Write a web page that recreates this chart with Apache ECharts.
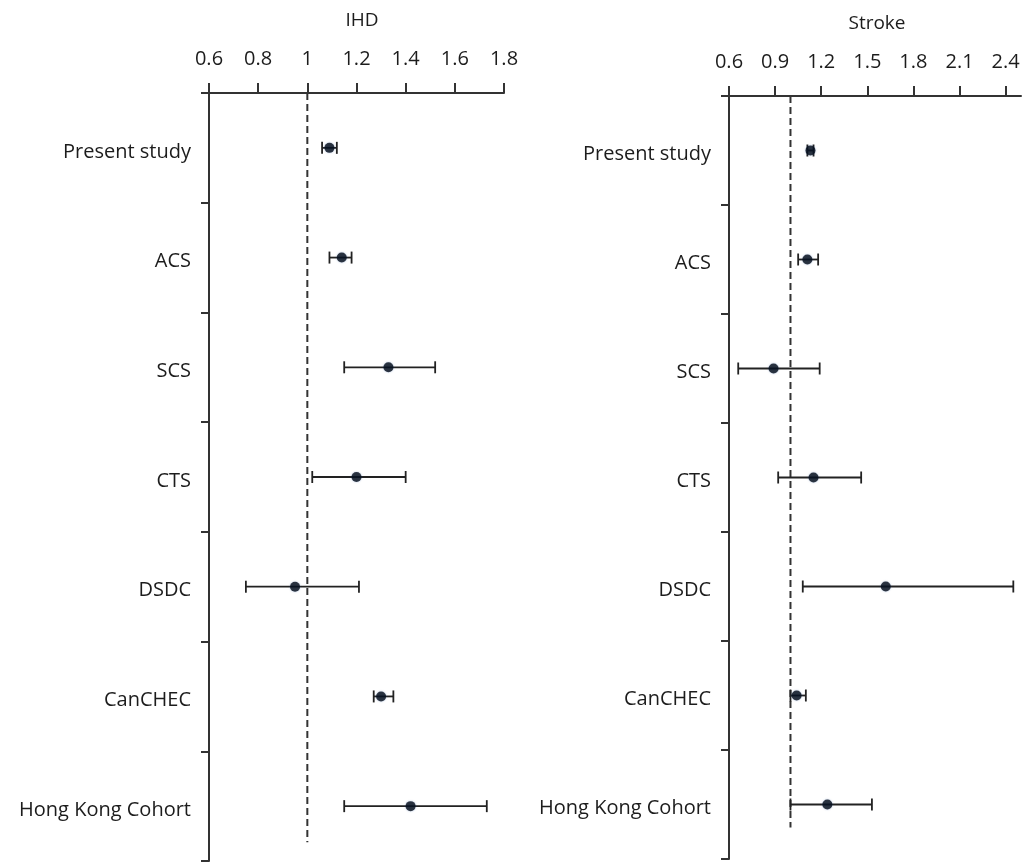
<!DOCTYPE html>
<html>
<head>
<meta charset="utf-8">
<script src="https://cdn.jsdelivr.net/npm/echarts@6/dist/echarts.min.js"></script>
<style>
  html, body { margin: 0; padding: 0; background: #fff; }
  #chart { width: 1029px; height: 867px; }
</style>
</head>
<body>
<div id="chart"></div>
<script>
// studies, top to bottom
const studies = ['Present study', 'ACS', 'SCS', 'CTS', 'DSDC', 'CanCHEC', 'Hong Kong Cohort'];

// IHD: hazard ratio and 95% CI
const ihdHR   = [1.09, 1.14, 1.33, 1.20, 0.95, 1.30, 1.42];
const ihdLow  = [1.06, 1.09, 1.15, 1.02, 0.75, 1.27, 1.15];
const ihdHigh = [1.12, 1.18, 1.52, 1.40, 1.21, 1.35, 1.73];

// Stroke: hazard ratio and 95% CI
const strokeHR   = [1.13, 1.11, 0.89, 1.15, 1.62, 1.04, 1.24];
const strokeLow  = [1.11, 1.05, 0.66, 0.92, 1.08, 1.00, 1.00];
const strokeHigh = [1.15, 1.18, 1.19, 1.46, 2.45, 1.10, 1.53];

// x axis ticks
const ihdTicks = [0.6, 0.8, 1, 1.2, 1.4, 1.6, 1.8];
const strokeTicks = [0.6, 0.9, 1.2, 1.5, 1.8, 2.1, 2.4];

// dashed reference line at HR = 1 (ends, in band units)
const ihdRef = [[1, 0], [1, 6.83]];
const strokeRef = [[1, 0], [1, 6.71]];

const FONT = '"Open Sans", sans-serif';
const TEXT = '#1c1c1c';
const AXIS = '#333333';

function errorBar(params, api) {
  const lo = api.coord([api.value(0), api.value(2)]);
  const hi = api.coord([api.value(1), api.value(2)]);
  const cap = 6;
  const style = { stroke: '#222', lineWidth: 1.8, fill: null };
  return {
    type: 'group',
    children: [
      { type: 'line', shape: { x1: lo[0], y1: lo[1], x2: hi[0], y2: hi[1] }, style },
      { type: 'line', shape: { x1: lo[0], y1: lo[1] - cap, x2: lo[0], y2: lo[1] + cap }, style },
      { type: 'line', shape: { x1: hi[0], y1: hi[1] - cap, x2: hi[0], y2: hi[1] + cap }, style }
    ]
  };
}

function valueAxis(gridIndex, min, max, interval, ticks) {
  return {
    type: 'value',
    gridIndex,
    position: 'top',
    min, max, interval,
    axisLine: { show: true, onZero: false, lineStyle: { color: AXIS, width: 2 } },
    axisTick: { show: true, inside: false, length: 10, customValues: ticks, lineStyle: { color: AXIS, width: 2 } },
    axisLabel: {
      customValues: ticks,
      margin: 24,
      color: TEXT,
      fontFamily: FONT,
      fontSize: 20,
      formatter: v => String(+v.toFixed(1))
    },
    splitLine: { show: false }
  };
}

function categoryAxis(gridIndex) {
  return {
    type: 'category',
    gridIndex,
    data: studies,
    inverse: true,
    boundaryGap: true,
    axisLine: { show: true, onZero: false, lineStyle: { color: AXIS, width: 2 } },
    axisTick: { show: true, length: 8, lineStyle: { color: AXIS, width: 2 } },
    axisLabel: {
      margin: 18,
      color: TEXT,
      fontFamily: FONT,
      fontSize: 20,
      formatter: v => '{t|' + v + '}',
      rich: { t: { fontFamily: FONT, fontSize: 20, color: TEXT, padding: [8, 0, 0, 0] } }
    },
    splitLine: { show: false }
  };
}

function hiddenAxis(gridIndex) {
  return { type: 'value', gridIndex, min: 0, max: 7, inverse: true, show: false };
}

function panel(xi, yCat, yVal, hr, low, high, ref) {
  return [
    {
      type: 'line',
      xAxisIndex: xi,
      yAxisIndex: yVal,
      data: ref,
      symbol: 'none',
      silent: true,
      z: 1,
      lineStyle: { color: '#333', width: 2, type: [7, 4] }
    },
    {
      type: 'custom',
      xAxisIndex: xi,
      yAxisIndex: yCat,
      renderItem: errorBar,
      encode: { x: [0, 1], y: 2 },
      data: studies.map((s, i) => [low[i], high[i], i]),
      z: 2
    },
    {
      type: 'scatter',
      xAxisIndex: xi,
      yAxisIndex: yCat,
      data: studies.map((s, i) => [hr[i], s]),
      symbolSize: 10,
      itemStyle: { color: '#050c18', shadowColor: 'rgba(30,80,160,0.45)', shadowBlur: 2 },
      z: 3
    }
  ];
}

const chart = echarts.init(document.getElementById('chart'));
chart.setOption({
  animation: false,
  backgroundColor: '#fff',
  title: [
    { text: 'IHD', left: 357, top: 6, textAlign: 'center',
      textStyle: { fontFamily: FONT, fontSize: 19, fontWeight: 'normal', color: TEXT } },
    { text: 'Stroke', left: 872, top: 9, textAlign: 'center',
      textStyle: { fontFamily: FONT, fontSize: 19, fontWeight: 'normal', color: TEXT } }
  ],
  grid: [
    { left: 209, top: 93, width: 295, height: 768 },
    { left: 729, top: 96, width: 292, height: 763 }
  ],
  xAxis: [
    valueAxis(0, 0.6, 1.8, 0.2, ihdTicks),
    valueAxis(1, 0.6, 2.5, 0.3, strokeTicks)
  ],
  yAxis: [
    categoryAxis(0),
    categoryAxis(1),
    hiddenAxis(0),
    hiddenAxis(1)
  ],
  series: [
    ...panel(0, 0, 2, ihdHR, ihdLow, ihdHigh, ihdRef),
    ...panel(1, 1, 3, strokeHR, strokeLow, strokeHigh, strokeRef)
  ]
});
</script>
</body>
</html>
